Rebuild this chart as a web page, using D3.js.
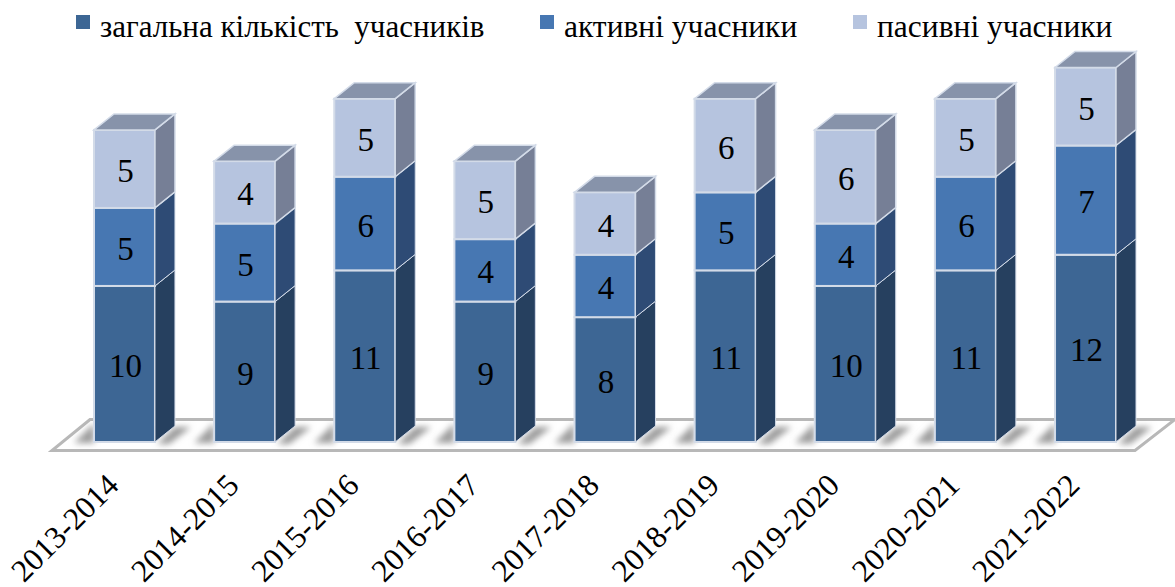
<!DOCTYPE html>
<html><head><meta charset="utf-8">
<script src="https://cdnjs.cloudflare.com/ajax/libs/d3/7.8.5/d3.min.js"></script>
<style>html,body{margin:0;padding:0;background:#fff}svg{display:block}text{font-family:"Liberation Serif",serif;fill:#000}</style>
</head><body><svg id="c" width="1175" height="587"></svg>
<script>
const years = ["2013-2014","2014-2015","2015-2016","2016-2017","2017-2018","2018-2019","2019-2020","2020-2021","2021-2022"];
const seriesNames = ["загальна кількість  учасників","активні учасники","пасивні учасники"];
const total = [10,9,11,9,8,11,10,11,12];
const active = [5,5,6,4,4,5,4,6,7];
const passive = [5,4,5,5,4,6,6,5,5];
const frontColors = ["#3c6694","#4777b2","#b6c4df"];
const sideColors = ["#273f5f","#2d4c75","#767f96"];
const topColor = "#8793aa";
const legendX = [76,540,853];
const legendSize = [31,31.5,31.5];

const svg = d3.select("#c");
const x = d3.scaleBand().domain(years).range([94,1116]).paddingInner(0.4925).paddingOuter(0);
const y = d3.scaleLinear().domain([0,24]).range([442,67.5]);
const dx = 20, dy = -16;
const floorPath = "M52,450.5L1135,450.5L1175,419.5L90,419.5Z";

const defs = svg.append("defs");
defs.append("filter").attr("id","soft").attr("x","-50%").attr("width","200%").attr("y","-50%").attr("height","200%")
  .append("feGaussianBlur").attr("stdDeviation",3.2);
defs.append("filter").attr("id","s1").append("feGaussianBlur").attr("stdDeviation",0.45);
defs.append("clipPath").attr("id","floorClip").append("path").attr("d",floorPath);

// floor
svg.append("path").attr("d",floorPath)
  .attr("fill","#fff").attr("stroke","#b8b8b8").attr("stroke-width",3).attr("filter","url(#s1)");
svg.append("path").attr("d","M52,451.5L1135,451.5").attr("stroke","#d4d4d4").attr("stroke-width",5).attr("filter","url(#s1)");
svg.append("path").attr("d","M52,450L1135,450").attr("stroke","#b0b0b0").attr("stroke-width",2).attr("filter","url(#s1)");

// floor shadows
const shadows = svg.append("g").attr("clip-path","url(#floorClip)");
const base = y(0);
years.forEach(yr=>{
  const x0=x(yr), w=x.bandwidth(), x1=x0+w;
  shadows.append("path")
    .attr("d",`M${x1+dx},${base-15}L${x1+dx+16},${base-15}L${x1+14},${base+2}L${x1+2},${base+2}Z`)
    .attr("fill","#9a9a9a").attr("filter","url(#soft)");
  shadows.append("path")
    .attr("d",`M${x0},${base-19}L${x0},${base+1}L${x0-20},${base+1}Z`)
    .attr("fill","#9c9c9c").attr("filter","url(#soft)");
});

// bars
const edge="#d3dbe8";
const bars = svg.append("g").attr("filter","url(#s1)");
years.forEach((yr,i)=>{
  const vals=[total[i],active[i],passive[i]];
  const x0=x(yr), w=x.bandwidth(), x1=x0+w;
  let acc=0;
  const g=bars.append("g");
  vals.forEach((v,k)=>{
    const yb=y(acc), yt=y(acc+v);
    g.append("rect").attr("x",x0).attr("y",yt).attr("width",w).attr("height",yb-yt)
      .attr("fill",frontColors[k]).attr("stroke",edge).attr("stroke-width",2);
    g.append("path").attr("d",`M${x1},${yb}L${x1+dx},${yb+dy}L${x1+dx},${yt+dy}L${x1},${yt}Z`)
      .attr("fill",sideColors[k]).attr("stroke",edge).attr("stroke-width",k==2?1.5:1);
    acc+=v;
  });
  const yt=y(acc);
  g.append("path").attr("d",`M${x0},${yt}L${x0+dx},${yt+dy}L${x1+dx},${yt+dy}L${x1},${yt}Z`)
    .attr("fill",topColor).attr("stroke",edge).attr("stroke-width",1.5);
});

// value labels
years.forEach((yr,i)=>{
  const vals=[total[i],active[i],passive[i]];
  let acc=0;
  vals.forEach(v=>{
    svg.append("text").attr("x",x(yr)+x.bandwidth()/2+1).attr("y",y(acc+v/2)+13)
      .attr("text-anchor","middle").attr("font-size",33).text(v);
    acc+=v;
  });
});

// category labels
years.forEach(yr=>{
  const cx=x(yr)+x.bandwidth()/2+1;
  svg.append("text").attr("transform",`translate(${cx-5},${487}) rotate(-45)`)
    .attr("text-anchor","end").attr("font-size",31.5).text(yr);
});

// legend
seriesNames.forEach((n,k)=>{
  svg.append("rect").attr("x",legendX[k]).attr("y",15).attr("width",14).attr("height",14).attr("fill",frontColors[k]);
  svg.append("text").attr("x",legendX[k]+24).attr("y",37).attr("font-size",legendSize[k]).style("white-space","pre").text(n);
});
</script></body></html>
